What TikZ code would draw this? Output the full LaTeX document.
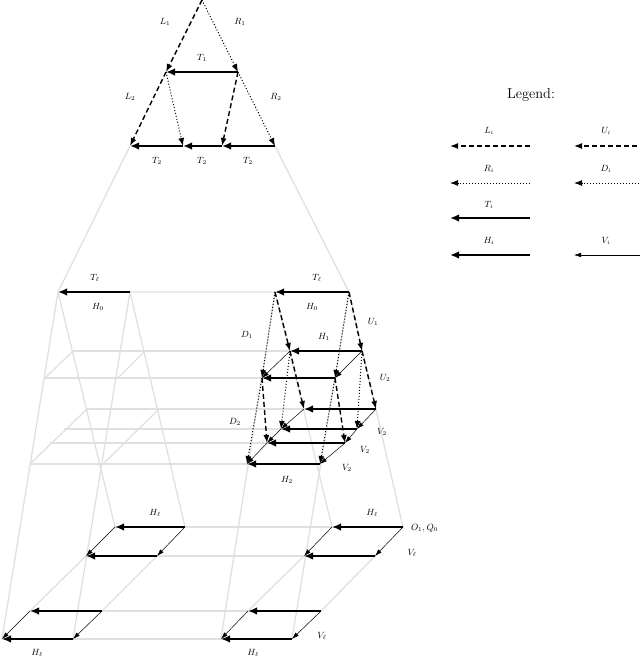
\documentclass[tikz,border=0pt]{standalone}
\usetikzlibrary{arrows.meta}
\begin{document}
\begin{tikzpicture}[x=1pt,y=-1pt,
 gr/.style={draw=black!12,line width=1.3pt},
 harr/.style={line width=2.3pt,-{Latex[length=9pt,width=7.5pt]}},
 darr/.style={line width=1.4pt,dash pattern=on 5pt off 3pt,-{Latex[length=8pt,width=6pt]}},
 oarr/.style={line width=1pt,dotted,-{Latex[length=8pt,width=6pt]}},
 varr/.style={line width=0.5pt,-{Latex[length=7pt,width=4.5pt]}},
 lab/.style={font=\small,inner sep=1pt}]
\useasboundingbox (0,0) rectangle (640,662);
% coordinates
\coordinate (ap) at (202,0); \coordinate (a1) at (166,72); \coordinate (b1) at (238,72);
\coordinate (c1) at (130,146); \coordinate (c2) at (183,146); \coordinate (c3) at (222,146); \coordinate (c4) at (275,146);
\coordinate (la) at (58,292); \coordinate (lb) at (130,292); \coordinate (ra) at (275,292); \coordinate (rb) at (349,292);
\coordinate (r1a) at (290,351); \coordinate (r1b) at (362,351); \coordinate (r2a) at (262,378); \coordinate (r2b) at (335,378);
\coordinate (r3a) at (304,409); \coordinate (r3b) at (376,409); \coordinate (r4a) at (281,429); \coordinate (r4b) at (357,429);
\coordinate (r5a) at (267,443); \coordinate (r5b) at (345,443); \coordinate (r6a) at (247,464); \coordinate (r6b) at (320,464);
\coordinate (l1a) at (73,351); \coordinate (l1b) at (145,351); \coordinate (l2a) at (45,378); \coordinate (l2b) at (118,378);
\coordinate (l3a) at (87,409); \coordinate (l3b) at (159,409); \coordinate (l4a) at (64,429); \coordinate (l4b) at (140,429);
\coordinate (l5a) at (50,443); \coordinate (l5b) at (128,443); \coordinate (l6a) at (30,464); \coordinate (l6b) at (103,464);
\coordinate (bl1a) at (115,527); \coordinate (bl1b) at (185,527); \coordinate (bl2a) at (86,556); \coordinate (bl2b) at (157,556);
\coordinate (bl3a) at (30,611); \coordinate (bl3b) at (102,611); \coordinate (bl4a) at (2,639); \coordinate (bl4b) at (73,639);
\coordinate (br1a) at (332,527); \coordinate (br1b) at (403,527); \coordinate (br2a) at (304,556); \coordinate (br2b) at (375,556);
\coordinate (br3a) at (248,611); \coordinate (br3b) at (321,611); \coordinate (br4a) at (221,639); \coordinate (br4b) at (292,639);
% gray skeleton
\draw[gr] (c1)--(la) (c4)--(rb) (lb)--(ra);
\draw[gr] (la)--(bl4a) (la)--(bl1a) (lb)--(bl4b) (lb)--(bl1b);
\draw[gr] (ra)--(br4a) (ra)--(br1a) (rb)--(br4b) (rb)--(br1b);
\foreach \k in {1,...,6}{\draw[gr] (l\k a)--(r\k b);}
\draw[gr] (l1a)--(l2a) (l1b)--(l2b) (l3a)--(l6a) (l3b)--(l6b);
\foreach \k in {1,...,4}{\draw[gr] (bl\k a)--(br\k b);}
\draw[gr] (bl2a)--(bl3a) (bl2b)--(bl3b) (br2a)--(br3a) (br2b)--(br3b);
% top triangle
\draw[darr] (ap)--(a1); \draw[oarr] (ap)--(b1);
\draw[harr] (b1)--(a1);
\draw[darr] (a1)--(c1); \draw[oarr] (a1)--(c2); \draw[darr] (b1)--(c3); \draw[oarr] (b1)--(c4);
\draw[harr] (c2)--(c1); \draw[harr] (c3)--(c2); \draw[harr] (c4)--(c3);
\node[lab] at (165,22) {$L_1$}; \node[lab] at (240,22) {$R_1$}; \node[lab] at (202,58) {$T_1$};
\node[lab] at (130,97) {$L_2$}; \node[lab] at (276,97) {$R_2$};
\node[lab] at (157,161) {$T_2$}; \node[lab] at (202,161) {$T_2$}; \node[lab] at (248,161) {$T_2$};
% level l
\draw[harr] (lb)--(la); \draw[harr] (rb)--(ra);
\node[lab] at (95,278) {$T_\ell$}; \node[lab] at (98,307) {$H_0$};
\node[lab] at (317,278) {$T_\ell$}; \node[lab] at (312,307) {$H_0$};
% right middle block
\draw[varr] (r1a)--(r2a); \draw[varr] (r1b)--(r2b);
\draw[varr] (r3a)--(r4a); \draw[varr] (r4a)--(r5a); \draw[varr] (r5a)--(r6a);
\draw[varr] (r3b)--(r4b); \draw[varr] (r4b)--(r5b); \draw[varr] (r5b)--(r6b);
\draw[darr] (ra)--(r1a); \draw[darr] (rb)--(r1b); \draw[oarr] (ra)--(r2a); \draw[oarr] (rb)--(r2b);
\draw[darr] (r1a)--(r3a); \draw[darr] (r1b)--(r3b); \draw[oarr] (r1a)--(r4a); \draw[oarr] (r1b)--(r4b);
\draw[darr] (r2a)--(r5a); \draw[darr] (r2b)--(r5b); \draw[oarr] (r2a)--(r6a); \draw[oarr] (r2b)--(r6b);
\foreach \k in {1,...,6}{\draw[harr] (r\k b)--(r\k a);}
\node[lab] at (373,322) {$U_1$}; \node[lab] at (324,337) {$H_1$}; \node[lab] at (247,335) {$D_1$};
\node[lab] at (385,378) {$U_2$}; \node[lab] at (235,422) {$D_2$};
\node[lab] at (382,432) {$V_2$}; \node[lab] at (365,450) {$V_2$}; \node[lab] at (347,468) {$V_2$};
\node[lab] at (287,480) {$H_2$};
% bottom level
\foreach \s in {bl,br}{
 \draw[varr] (\s1a)--(\s2a); \draw[varr] (\s1b)--(\s2b);
 \draw[varr] (\s3a)--(\s4a); \draw[varr] (\s3b)--(\s4b);
 \foreach \k in {1,...,4}{\draw[harr] (\s\k b)--(\s\k a);}}
\node[lab] at (155,513) {$H_\ell$}; \node[lab] at (372,513) {$H_\ell$};
\node[lab,anchor=west] at (410,528) {$O_1,Q_0$};
\node[lab] at (412,553) {$V_\ell$}; \node[lab] at (322,636) {$V_\ell$};
\node[lab] at (37,653) {$H_\ell$}; \node[lab] at (253,653) {$H_\ell$};
% legend
\node[font=\Large] (leg) at (531,95) {Legend:};
\coordinate (g1) at (530,146); \coordinate (g1e) at (450,146);
\coordinate (g2) at (530,183); \coordinate (g2e) at (450,183);
\coordinate (g3) at (530,218); \coordinate (g3e) at (450,218);
\coordinate (g4) at (530,255); \coordinate (g4e) at (450,255);
\coordinate (h1) at (645,146); \coordinate (h1e) at (574,146);
\coordinate (h2) at (645,183); \coordinate (h2e) at (574,183);
\coordinate (h4) at (645,255); \coordinate (h4e) at (574,255);
\draw[darr] (g1)--(g1e); \draw[oarr] (g2)--(g2e); \draw[harr] (g3)--(g3e); \draw[harr] (g4)--(g4e);
\draw[darr] (h1)--(h1e); \draw[oarr] (h2)--(h2e); \draw[varr] (h4)--(h4e);
\node[lab] at (489,131) {$L_i$}; \node[lab] at (489,169) {$R_i$}; \node[lab] at (489,205) {$T_i$}; \node[lab] at (489,241) {$H_i$};
\node[lab] at (606,131) {$U_i$}; \node[lab] at (606,169) {$D_i$}; \node[lab] at (606,241) {$V_i$};
\end{tikzpicture}
\end{document}
